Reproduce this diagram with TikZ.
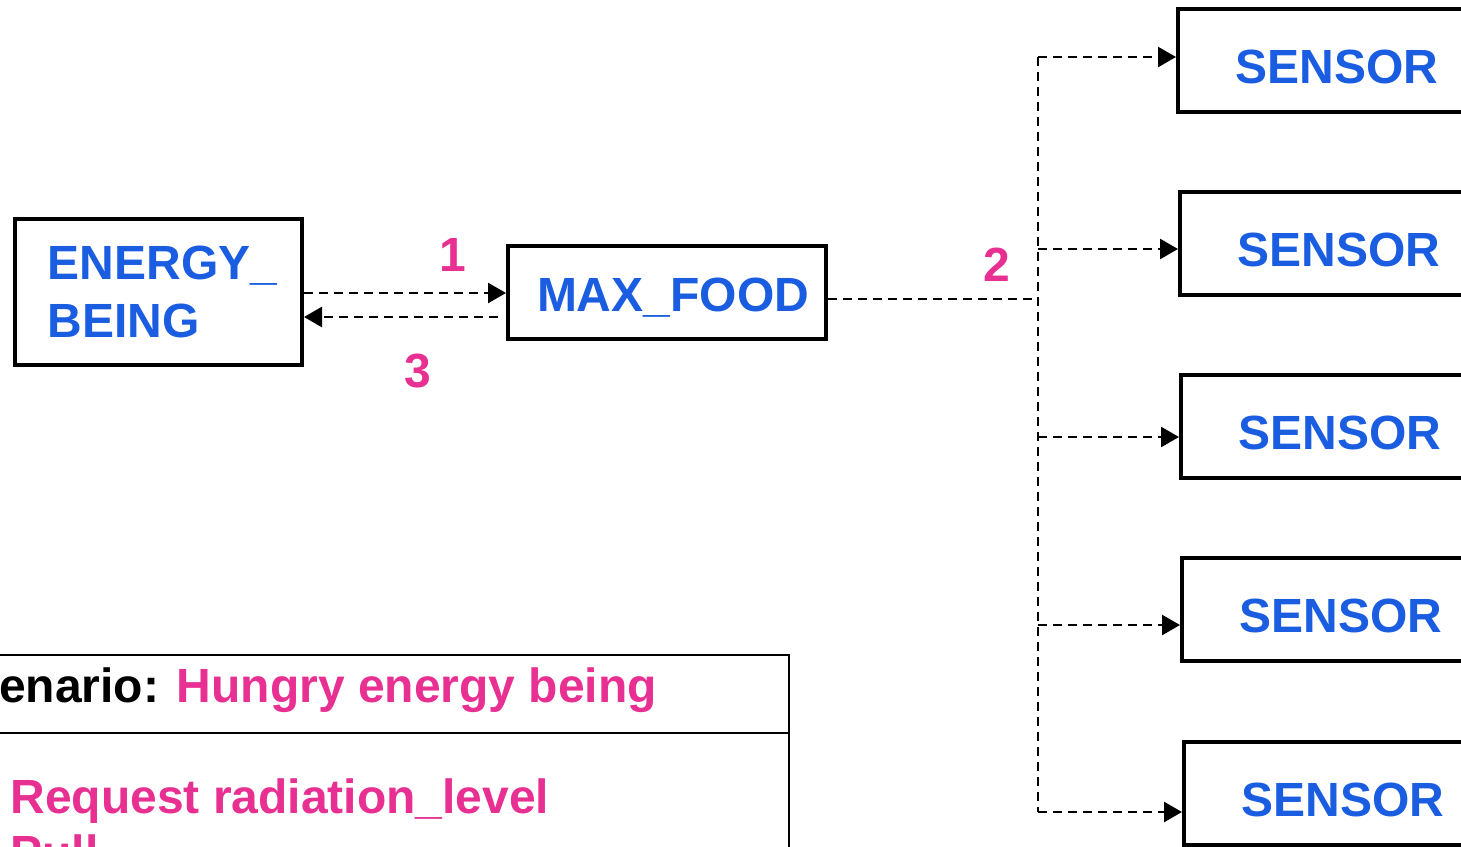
\documentclass[tikz,border=0pt]{standalone}
\usepackage{fontspec}
\setmainfont{Liberation Sans}
\usetikzlibrary{arrows.meta}
\definecolor{nodeblue}{RGB}{26,93,224}
\definecolor{numpink}{RGB}{231,48,145}
\begin{document}
\begin{tikzpicture}[x=0.5pt,y=-0.5pt,
  box/.style={draw, line width=2pt, minimum width=159pt, inner sep=0pt,
    font=\bfseries\fontsize{24}{29}\selectfont, text=nodeblue},
  sensorbox/.style={box, minimum height=51.5pt, text height=23pt, text depth=0pt},
  conn/.style={line width=1.3pt, dash pattern=on 4.5pt off 3pt},
  arr/.style={conn, -{Triangle[length=9pt,width=10pt]}},
  num/.style={anchor=base, text=numpink, font=\bfseries\fontsize{24}{29}\selectfont},
  legtext/.style={anchor=base west, inner sep=0pt, font=\bfseries\fontsize{24}{28}\selectfont}]
\useasboundingbox (0,0) rectangle (1461,846);
\clip (0,0) rectangle (1461,846);

% boxes
\node[box, minimum width=143.5pt, minimum height=73pt, align=left] (e) at (158.5,292) {\hspace*{4pt}ENERGY\_\\\hspace*{4pt}BEING};
\node[box, minimum height=46.5pt, text height=18.5pt, text depth=0pt] (m) at (667,292.5) {\hspace*{6pt}MAX\_FOOD};
\node[sensorbox] (s1) at (1337,60.5) {SENSOR};
\node[sensorbox] (s2) at (1339,243.5) {SENSOR};
\node[sensorbox] (s3) at (1340,426.5) {SENSOR};
\node[sensorbox] (s4) at (1341,609.5) {SENSOR};
\node[sensorbox] (s5) at (1343,793) {SENSOR};

% numbers
\node[num] (n1) at (452.5,271) {1};
\node[num] (n2) at (997,281) {2};
\node[num] (n3) at (418,387) {3};

% connectors
\coordinate (ya) at (0,293);
\coordinate (yb) at (0,317);
\coordinate (j) at (1038,299);
\coordinate (b1) at (1038,57);
\coordinate (b2) at (1038,249);
\coordinate (b3) at (1038,437);
\coordinate (b4) at (1038,625);
\coordinate (b5) at (1038,812);
\draw[arr] (e.east |- ya) -- (m.west |- ya);
\draw[arr] ([xshift=-4pt]m.west |- yb) -- (e.east |- yb);
\draw[conn] (m.east |- j) -- (j);
\draw[conn] (b1) -- (b5);
\draw[arr] (b1) -- (b1 -| s1.west);
\draw[arr] (b2) -- (b2 -| s2.west);
\draw[arr] (b3) -- (b3 -| s3.west);
\draw[arr] (b4) -- (b4 -| s4.west);
\draw[arr] (b5) -- (b5 -| s5.west);

% legend
\node[draw, line width=1.25pt, minimum width=404.5pt, minimum height=122.5pt, inner sep=0pt] (leg) at (384.5,777.5) {};
\coordinate (yd) at (0,733);
\draw[line width=1.25pt] (leg.west |- yd) -- (leg.east |- yd);
\node[legtext] (sc) at (-60,702) {Scenario: \textcolor{numpink}{Hungry energy being}};
\node[legtext, text=numpink] (req) at (10,813) {Request radiation\_level};
\node[legtext, text=numpink] (pull) at (10,869) {Pull};
\end{tikzpicture}
\end{document}
